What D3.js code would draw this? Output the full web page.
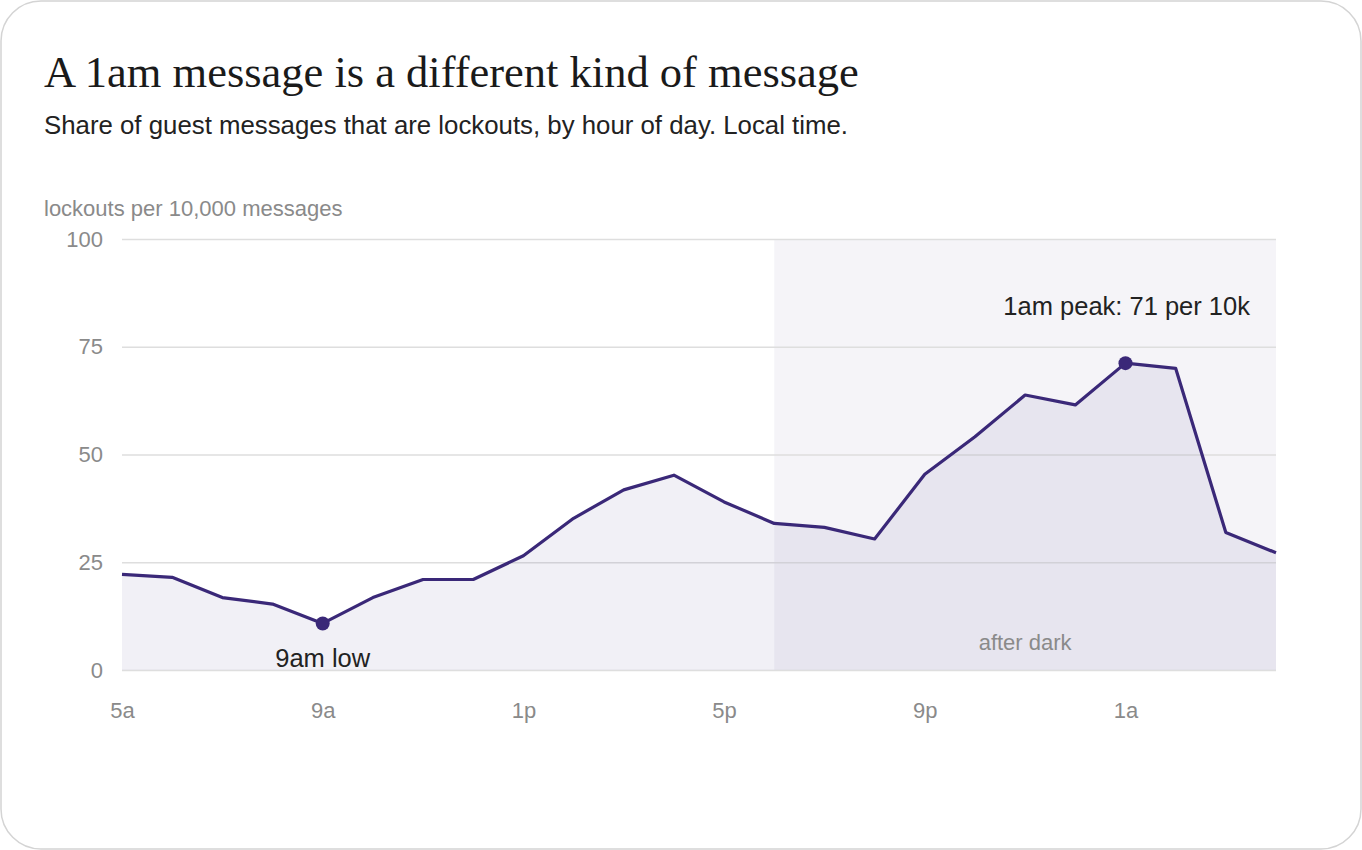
<!DOCTYPE html>
<html>
<head>
<meta charset="utf-8">
<script src="https://cdn.jsdelivr.net/npm/d3@7"></script>
<style>
  html, body { margin: 0; padding: 0; background: #ffffff; }
  svg { display: block; }
</style>
</head>
<body>
<script>
const hours = ["5a","6a","7a","8a","9a","10a","11a","12p","1p","2p","3p","4p","5p","6p","7p","8p","9p","10p","11p","12a","1a","2a","3a","4a"];
const lockouts = [22.2,21.5,16.8,15.3,10.8,16.8,21.0,21.0,26.5,35.2,41.8,45.2,39.0,34.0,33.1,30.4,45.4,54.1,63.8,61.5,71.2,70.0,31.9,27.2];
const xTickLabels = ["5a","9a","1p","5p","9p","1a"];
const yTicks = [0,25,50,75,100];
const afterDarkStart = "6p";
const lowHour = "9a";
const peakHour = "1a";

const W = 1362, H = 850;
const margin = {left: 122, right: 86, top: 239, bottom: 180};

const svg = d3.select("body").append("svg").attr("width", W).attr("height", H);

svg.append("rect").attr("x", 1).attr("y", 1).attr("width", W - 2).attr("height", H - 2)
  .attr("rx", 40).attr("ry", 40).attr("fill", "#fff").attr("stroke", "#d4d4d4").attr("stroke-width", 1.5);

const x = d3.scalePoint().domain(hours).range([margin.left, W - margin.right]);
const y = d3.scaleLinear().domain([0, 100]).range([H - margin.bottom, margin.top]);

const sans = "'Liberation Sans', Arial, sans-serif";

// after dark band
svg.append("rect")
  .attr("x", x(afterDarkStart)).attr("y", y(100))
  .attr("width", x(hours[hours.length - 1]) - x(afterDarkStart))
  .attr("height", y(0) - y(100))
  .attr("fill", "#f5f4f8");

// gridlines
const yAxis = d3.axisLeft(y).tickValues(yTicks).tickSize(-(x.range()[1] - x.range()[0])).tickPadding(19);
const gy = svg.append("g").attr("transform", `translate(${margin.left},0)`).call(yAxis);
gy.select(".domain").remove();
gy.selectAll(".tick line").attr("stroke", "#dedede").attr("stroke-width", 1.5);
gy.selectAll(".tick text").attr("fill", "#8a8a8a").attr("font-size", 22).attr("font-family", sans);

// area
const data = hours.map((h, i) => ({h, v: lockouts[i]}));
svg.append("path").datum(data)
  .attr("d", d3.area().x(d => x(d.h)).y0(y(0)).y1(d => y(d.v)))
  .attr("fill", "#3b2a7a").attr("fill-opacity", 0.07);

// line
svg.append("path").datum(data)
  .attr("d", d3.line().x(d => x(d.h)).y(d => y(d.v)))
  .attr("fill", "none").attr("stroke", "#3a2878").attr("stroke-width", 3.2)
  .attr("stroke-linejoin", "round");

// x axis labels
const xAxis = d3.axisBottom(x).tickValues(xTickLabels).tickSize(0).tickPadding(32);
const gx = svg.append("g").attr("transform", `translate(0,${y(0)})`).call(xAxis);
gx.select(".domain").remove();
gx.selectAll(".tick text").attr("fill", "#8a8a8a").attr("font-size", 22).attr("font-family", sans);

// dots
[lowHour, peakHour].forEach(h => {
  const v = lockouts[hours.indexOf(h)];
  svg.append("circle").attr("cx", x(h)).attr("cy", y(v)).attr("r", 7).attr("fill", "#3a2878");
});

// annotations
svg.append("text").attr("x", x(lowHour)).attr("y", 667).attr("text-anchor", "middle")
  .attr("font-family", sans).attr("font-size", 25.5).attr("fill", "#222").text("9am low");
svg.append("text").attr("x", 1250).attr("y", 315).attr("text-anchor", "end")
  .attr("font-family", sans).attr("font-size", 25.5).attr("fill", "#222").text("1am peak: 71 per 10k");
svg.append("text").attr("x", (x(afterDarkStart) + x(hours[hours.length - 1])) / 2).attr("y", 650)
  .attr("text-anchor", "middle").attr("font-family", sans).attr("font-size", 22).attr("fill", "#8a8a8a")
  .text("after dark");

// axis title
svg.append("text").attr("x", 44).attr("y", 216).attr("font-family", sans).attr("font-size", 22)
  .attr("fill", "#8a8a8a").text("lockouts per 10,000 messages");

// title & subtitle
svg.append("text").attr("x", 44).attr("y", 87).attr("font-family", "'Liberation Serif', 'DejaVu Serif', serif")
  .attr("font-size", 44.5).attr("fill", "#1a1a1a").text("A 1am message is a different kind of message");
svg.append("text").attr("x", 44).attr("y", 134).attr("font-family", sans)
  .attr("font-size", 25.8).attr("fill", "#222").text("Share of guest messages that are lockouts, by hour of day. Local time.");
</script>
</body>
</html>
